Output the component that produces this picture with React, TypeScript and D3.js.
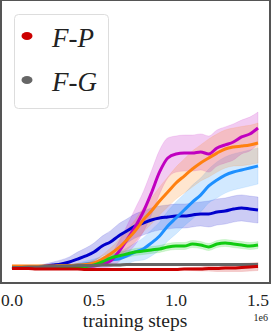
import React from "react";
import * as d3 from "d3";

// training steps (x 1e6)
const steps = d3.range(31).map((i) => i * 0.05);

// mean curves (normalized return)
const magentaMean = [0.004, 0.004, 0.004, 0.004, 0.004, 0.007, 0.007, 0.007, 0.007, 0.011, 0.014, 0.029, 0.05, 0.114, 0.2, 0.293, 0.4, 0.536, 0.686, 0.786, 0.814, 0.821, 0.821, 0.829, 0.814, 0.857, 0.879, 0.9, 0.936, 0.957, 1.0];
const orangeMean = [0.014, 0.014, 0.014, 0.014, 0.014, 0.014, 0.018, 0.018, 0.021, 0.025, 0.036, 0.064, 0.1, 0.143, 0.2, 0.264, 0.343, 0.407, 0.479, 0.543, 0.607, 0.657, 0.707, 0.75, 0.786, 0.821, 0.85, 0.864, 0.871, 0.879, 0.893];
const lightBlueMean = [-0.004, -0.004, 0.0, 0.0, 0.004, 0.007, 0.011, 0.014, 0.021, 0.029, 0.036, 0.043, 0.057, 0.064, 0.086, 0.114, 0.136, 0.179, 0.229, 0.3, 0.357, 0.414, 0.471, 0.521, 0.586, 0.629, 0.664, 0.686, 0.7, 0.714, 0.729];
const darkBlueMean = [0.004, 0.004, 0.007, 0.007, 0.014, 0.021, 0.029, 0.043, 0.064, 0.086, 0.114, 0.157, 0.186, 0.229, 0.264, 0.3, 0.321, 0.343, 0.357, 0.364, 0.371, 0.371, 0.379, 0.386, 0.386, 0.4, 0.407, 0.421, 0.429, 0.421, 0.414];
const greenMean = [0.0, 0.0, 0.0, 0.0, 0.0, 0.0, 0.0, 0.004, 0.007, 0.011, 0.021, 0.043, 0.071, 0.086, 0.1, 0.114, 0.121, 0.129, 0.136, 0.15, 0.157, 0.157, 0.171, 0.164, 0.15, 0.171, 0.179, 0.171, 0.164, 0.157, 0.164];
const grayMean = [0.004, 0.004, 0.007, 0.007, 0.011, 0.011, 0.014, 0.014, 0.018, 0.018, 0.018, 0.021, 0.021, 0.021, 0.025, 0.025, 0.025, 0.025, 0.025, 0.025, 0.025, 0.025, 0.025, 0.025, 0.025, 0.025, 0.025, 0.025, 0.025, 0.025, 0.025];
const redMean = [-0.004, -0.004, -0.004, -0.007, -0.007, -0.007, -0.007, -0.007, -0.007, -0.011, -0.011, -0.011, -0.011, -0.011, -0.011, -0.011, -0.011, -0.011, -0.011, -0.011, -0.011, -0.007, -0.007, -0.007, -0.004, -0.004, 0.0, 0.0, 0.004, 0.007, 0.011];

// spread (half-width of shaded band)
const magentaSpread = [0, 0, 0, 0, 0, 0, 0, 0, 0.004, 0.007, 0.014, 0.029, 0.043, 0.071, 0.1, 0.129, 0.143, 0.157, 0.157, 0.143, 0.129, 0.129, 0.129, 0.129, 0.129, 0.129, 0.129, 0.129, 0.121, 0.121, 0.114];
const orangeSpread = [0.004, 0.004, 0.004, 0.004, 0.004, 0.004, 0.007, 0.007, 0.011, 0.014, 0.021, 0.029, 0.043, 0.057, 0.071, 0.079, 0.086, 0.093, 0.1, 0.107, 0.114, 0.121, 0.129, 0.129, 0.136, 0.136, 0.136, 0.136, 0.14, 0.14, 0.143];
const lightBlueSpread = [0.004, 0.004, 0.004, 0.004, 0.007, 0.007, 0.011, 0.011, 0.014, 0.021, 0.029, 0.036, 0.043, 0.05, 0.057, 0.064, 0.079, 0.093, 0.1, 0.107, 0.114, 0.114, 0.121, 0.121, 0.121, 0.129, 0.129, 0.129, 0.129, 0.129, 0.129];
const darkBlueSpread = [0.004, 0.004, 0.007, 0.011, 0.014, 0.021, 0.029, 0.036, 0.05, 0.057, 0.064, 0.071, 0.079, 0.086, 0.086, 0.086, 0.086, 0.086, 0.086, 0.086, 0.086, 0.086, 0.086, 0.086, 0.093, 0.093, 0.093, 0.093, 0.093, 0.093, 0.093];
const greenSpread = [0.004, 0.004, 0.004, 0.004, 0.004, 0.004, 0.004, 0.007, 0.011, 0.014, 0.018, 0.021, 0.021, 0.025, 0.025, 0.025, 0.025, 0.025, 0.025, 0.025, 0.025, 0.025, 0.025, 0.025, 0.025, 0.025, 0.025, 0.025, 0.025, 0.025, 0.025];
const graySpread = [0.004, 0.004, 0.004, 0.004, 0.004, 0.007, 0.007, 0.007, 0.007, 0.007, 0.007, 0.007, 0.007, 0.007, 0.007, 0.007, 0.007, 0.007, 0.007, 0.007, 0.007, 0.007, 0.007, 0.007, 0.007, 0.007, 0.007, 0.007, 0.007, 0.007, 0.007];
const redSpread = [0.004, 0.004, 0.004, 0.004, 0.004, 0.004, 0.004, 0.004, 0.004, 0.004, 0.004, 0.004, 0.004, 0.004, 0.004, 0.004, 0.004, 0.004, 0.004, 0.004, 0.004, 0.007, 0.011, 0.014, 0.018, 0.021, 0.025, 0.025, 0.029, 0.029, 0.029];

const xTicks = [0, 0.5, 1.0, 1.5];
const xLabel = "training steps";
const xOffsetLabel = "1e6";
const legendLabels = ["F-P", "F-G"];
const legendColors = ["#cc0000", "#666666"];

const series = [
  { mean: darkBlueMean, spread: darkBlueSpread, color: "#0000cc" },
  { mean: lightBlueMean, spread: lightBlueSpread, color: "#1e90ff" },
  { mean: magentaMean, spread: magentaSpread, color: "#c000c0" },
  { mean: orangeMean, spread: orangeSpread, color: "#ff8010" },
  { mean: greenMean, spread: greenSpread, color: "#11cc11" },
  { mean: grayMean, spread: graySpread, color: "#666666" },
  { mean: redMean, spread: redSpread, color: "#cc0000" },
];

export default function App() {
  const W = 272;
  const H = 335;
  const x = d3.scaleLinear().domain([0, 1.5]).range([12, 258]);
  const y = d3.scaleLinear().domain([0, 1]).range([268, 128]);
  const line = d3
    .line<number>()
    .x((_, i) => x(steps[i]))
    .y((d) => y(d))
    .curve(d3.curveMonotoneX);
  const area = (mean: number[], spread: number[]) =>
    d3
      .area<number>()
      .x((_, i) => x(steps[i]))
      .y0((d, i) => y(d - spread[i]))
      .y1((d, i) => y(d + spread[i]))
      .curve(d3.curveMonotoneX)(mean);
  const serif = "'Liberation Serif', 'DejaVu Serif', serif";
  return (
    <svg
      width={W}
      height={H}
      style={{ position: "absolute", left: 0, top: 0, background: "#fff" }}
    >
      <defs>
        <clipPath id="plot">
          <rect x={1} y={0} width={269} height={283} />
        </clipPath>
      </defs>
      <g clipPath="url(#plot)">
        {series.map((s, i) => (
          <path key={"a" + i} d={area(s.mean, s.spread) || ""} fill={s.color} fillOpacity={0.2} stroke={s.color} strokeOpacity={0.15} strokeWidth={0.8} />
        ))}
        {series.map((s, i) => (
          <path key={"l" + i} d={line(s.mean) || ""} fill="none" stroke={s.color} strokeWidth={3} strokeLinejoin="round" />
        ))}
      </g>
      <rect x={1} y={0} width={269} height={283} fill="none" stroke="#555" strokeWidth={2} />
      {xTicks.map((t) => (
        <text key={t} x={x(t)} y={305.5} textAnchor="middle" fontFamily={serif} fontSize={17.5} fill="#222">
          {t.toFixed(1)}
        </text>
      ))}
      <text x={x(0.75)} y={327} textAnchor="middle" fontFamily={serif} fontSize={19.5} fill="#222">
        {xLabel}
      </text>
      <text x={268} y={321} textAnchor="end" fontFamily={serif} fontSize={10} fill="#222">
        {xOffsetLabel}
      </text>
      <rect x={14.5} y={14.5} width={94} height={94} rx={4} fill="#fff" fillOpacity={0.85} stroke="#ddd" strokeWidth={1} />
      {legendLabels.map((lab, i) => (
        <g key={lab}>
          <ellipse cx={27} cy={36 + i * 44} rx={5.5} ry={4} fill={legendColors[i]} />
          <text x={52} y={46.5 + i * 44} fontFamily={serif} fontStyle="italic" fontSize={27} fill="#222">
            {lab}
          </text>
        </g>
      ))}
    </svg>
  );
}
